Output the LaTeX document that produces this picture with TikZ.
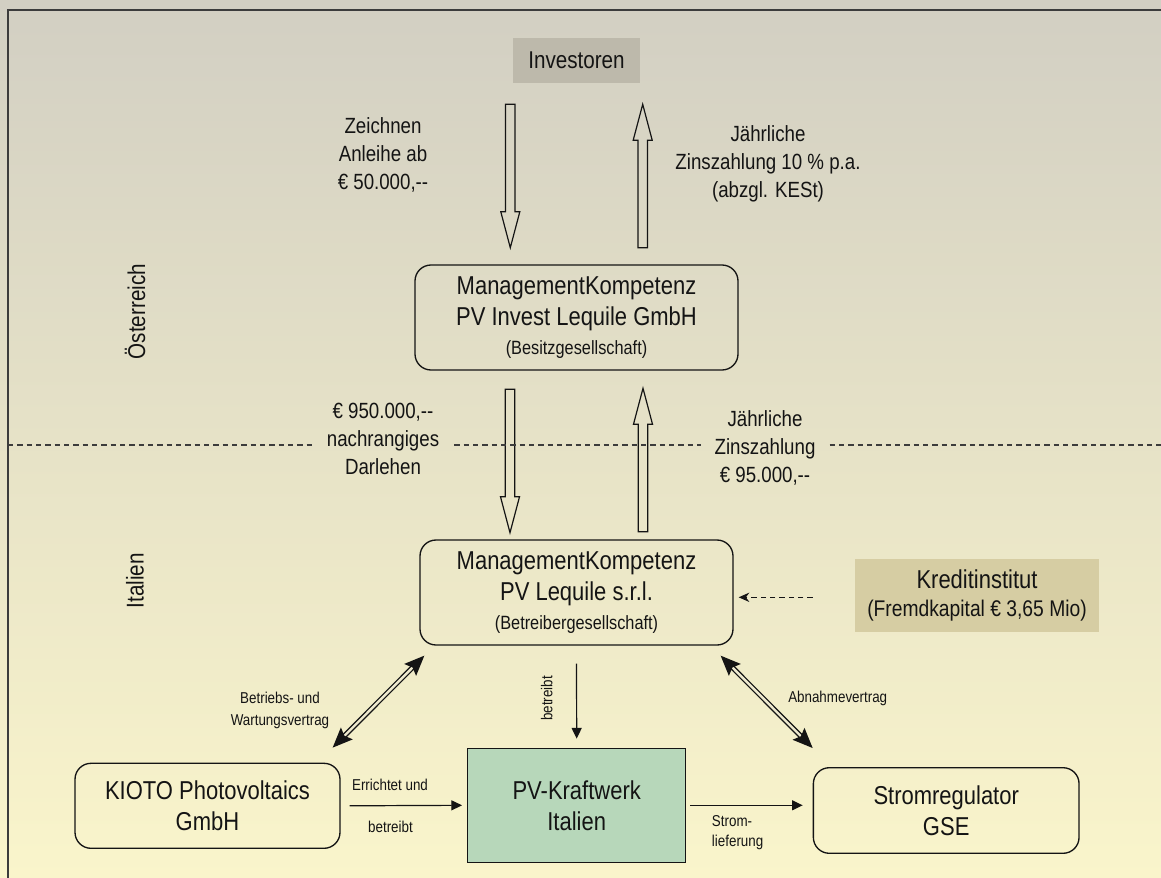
\documentclass[tikz,border=0pt]{standalone}
\usepackage{fontspec}
\setmainfont{Liberation Sans}[FakeStretch=0.85]
\usetikzlibrary{arrows.meta,calc}

\definecolor{bgtop}{RGB}{210,207,195}
\definecolor{bgmid}{RGB}{238,233,206}
\definecolor{bgbot}{RGB}{250,245,203}
\definecolor{invfill}{RGB}{189,185,171}
\definecolor{krfill}{RGB}{214,205,163}
\definecolor{pvfill}{RGB}{183,215,186}
\definecolor{ink}{RGB}{20,20,20}
\definecolor{framec}{RGB}{60,60,60}

\newcommand\fL{\fontsize{19.4pt}{23.3pt}\selectfont}
\newcommand\fI{\fontsize{18.2pt}{22pt}\selectfont}
\newcommand\fM{\fontsize{16.5pt}{21pt}\selectfont}
\newcommand\fK{\fontsize{17pt}{21pt}\selectfont}
\newcommand\fS{\fontsize{14.4pt}{18pt}\selectfont}
\newcommand\fT{\fontsize{11.8pt}{14.5pt}\selectfont}
\def\p{0.75pt}

\begin{document}
\begin{tikzpicture}[x=0.75pt,y=-0.75pt,
  rbox/.style={draw=ink, line width=1pt, rounded corners=12pt, align=center, inner sep=0pt, text=ink},
  fbox/.style={align=center, inner sep=0pt, text=ink},
  lab/.style={align=center, inner sep=0pt, text=ink},
  arr/.style={draw=ink, line width=0.9pt, -{Triangle[length=8pt,width=7.5pt]}},
  darr/.style={draw=ink, line width=0.8pt, dash pattern=on 4pt off 3pt, -{Stealth[length=8pt,width=7pt]}},
  dbl/.style={draw=ink, line width=1pt, double=bgmid, double distance=1.8pt,
    {Stealth[length=15pt,width=12.5pt,inset=2.5pt]}-{Stealth[length=15pt,width=12.5pt,inset=2.5pt]}},
  sep/.style={draw=framec, line width=0.8pt, dash pattern=on 4pt off 3pt},
  blockarrow/.pic={\draw[draw=ink, line width=0.9pt] (-4.75,0) -- (4.75,0) -- (4.75,107.5) -- (9.5,107.5) -- (0,143.4) -- (-9.5,107.5) -- (-4.75,107.5) -- cycle;}
]
\useasboundingbox (0,0) rectangle (1161,878);
\shade[top color=bgtop, middle color=bgmid, bottom color=bgbot] (0,0) rectangle (1161,878);
\draw[framec, line width=1.3pt] (8,878) -- (8,10) -- (1161,10);

% boxes
\node[fbox, fill=invfill, minimum width=127*\p, minimum height=44.4*\p, font=\fI] (inv) at (576.5,60.5) {Investoren};
\node[rbox, minimum width=323*\p, minimum height=105*\p, font=\fL] (mka) at (576.5,317.5)
  {ManagementKompetenz\\PV Invest Lequile GmbH\\[-2pt]{\fS (Besitzgesellschaft)}};
\node[rbox, minimum width=313*\p, minimum height=105*\p, font=\fL] (leq) at (576.5,592.5)
  {ManagementKompetenz\\PV Lequile s.r.l.\\[-2pt]{\fS (Betreibergesellschaft)}};
\node[fbox, fill=krfill, minimum width=244*\p, minimum height=73*\p, font=\fL] (kredit) at (977,595.3)
  {Kreditinstitut\\[-2pt]{\fK (Fremdkapital € 3,65 Mio)}};
\node[rbox, minimum width=265*\p, minimum height=85*\p, font=\fL] (kioto) at (207.5,805.8)
  {KIOTO Photovoltaics\\GmbH};
\node[fbox, draw=ink, line width=1pt, fill=pvfill, minimum width=218*\p, minimum height=114*\p, font=\fL] (pv) at (576.7,805.3)
  {PV-Kraftwerk\\Italien};
\node[rbox, minimum width=265.7*\p, minimum height=85.6*\p, font=\fL] (strom) at (946.2,810.5)
  {Stromregulator\\GSE};

% labels
\node[lab, font=\fM] (zeich) at (383,155) {Zeichnen\\Anleihe ab\\€ 50.000,-{}-};
\node[lab, font=\fM] (jahr1) at (768,164) {Jährliche\\Zinszahlung 10 \% p.a.\\(abzgl. KESt)};
\node[lab, font=\fM] (dar) at (383,439) {€ 950.000,-{}-\\nachrangiges\\Darlehen};
\node[lab, font=\fM] (jahr2) at (765,448) {Jährliche\\Zinszahlung\\€ 95.000,-{}-};
\node[lab, font=\fI, rotate=90] (oest) at (135,311.7) {Österreich};
\node[lab, font=\fI, rotate=90] (ital) at (135,580.7) {Italien};
\node[lab, font=\fT] (betrw) at (280,710) {Betriebs- und\\[2pt]Wartungsvertrag};
\node[lab, font=\fT, rotate=90] (betr) at (546.7,698.3) {betreibt};
\node[lab, font=\fT] (abn) at (837.7,698.3) {Abnahmevertrag};
\node[lab, font=\fT] (err1) at (390,785) {Errichtet und};
\node[lab, font=\fT] (err2) at (390.5,827) {betreibt};
\node[lab, font=\fT, align=left, anchor=west] (strl) at (711.7,832.7) {Strom-\\lieferung};

% block arrows
\pic at (510.3,104.3) {blockarrow};
\pic[rotate=180] at (642.7,247.7) {blockarrow};
\pic at (510,389.3) {blockarrow};
\pic[rotate=180] at (643,531.7) {blockarrow};

% separator
\coordinate (sepL) at (8,445);
\coordinate (sepR) at (1161,445);
\draw[sep] (sepL) -- ($(dar.west |- sepL)+(-15,0)$);
\draw[sep] ($(dar.east |- sepL)+(15,0)$) -- ($(jahr2.west |- sepL)+(-13,0)$);
\draw[sep] ($(jahr2.east |- sepL)+(14,0)$) -- (sepR);

% connectors
\draw[darr] ($(kredit.west)+(-42,2)$) -- ($(kredit.west -| leq.east)+(5,2)$);
\draw[arr] ($(leq.south)+(0,18)$) -- ($(pv.north)+(0,-9)$);
\draw[arr] ($(kioto.east)+(9,0)$) -- ($(pv.west)+(-5,0)$);
\draw[arr] ($(pv.east)+(4,0)$) -- ($(pv.east -| strom.west)+(-10,0)$);
\draw[dbl] ($(leq.south west)+(5,10)$) -- ($(kioto.north east)+(-8,-15)$);
\draw[dbl] ($(leq.south east)+(-13,10)$) -- ($(strom.north west)+(0,-19)$);
\end{tikzpicture}
\end{document}
